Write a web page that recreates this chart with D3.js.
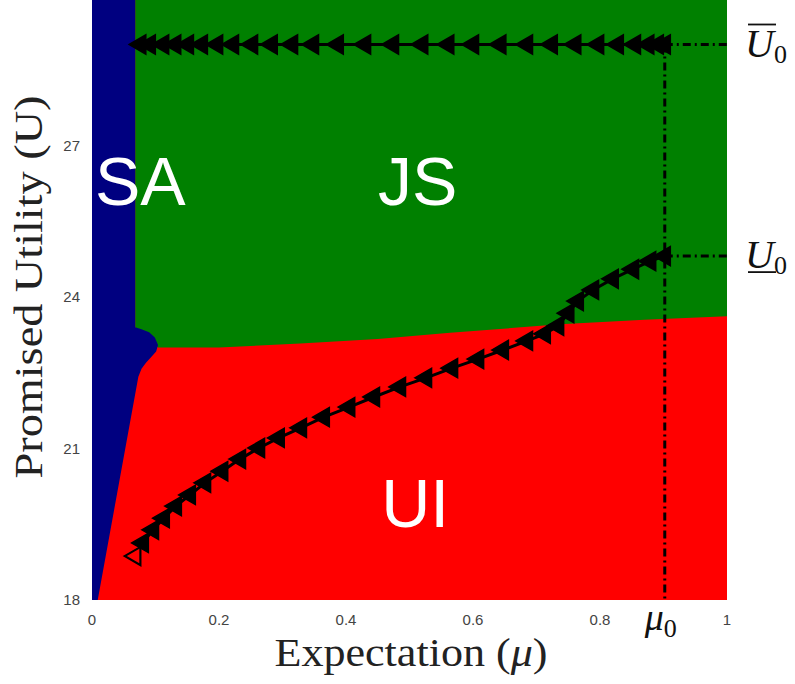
<!DOCTYPE html>
<html>
<head>
<meta charset="utf-8">
<script src="https://cdn.jsdelivr.net/npm/d3@7"></script>
<style>
  body { margin: 0; background: #fff; }
  svg { display: block; }
</style>
</head>
<body>
<div id="chart"></div>
<script>
// ticks
const xTicks = [0, 0.2, 0.4, 0.6, 0.8, 1];
const yTicks = [18, 21, 24, 27];

// reference levels
const mu0 = 0.902;
const uBar0 = 29;
const uUnder0 = 24.81;

// upper trajectory (U stays at uBar0)
const upperMu = [0.076, 0.091, 0.112, 0.131, 0.151, 0.173, 0.197, 0.222, 0.252, 0.283,
  0.315, 0.348, 0.387, 0.43, 0.474, 0.52, 0.561, 0.6, 0.643, 0.685, 0.724, 0.761,
  0.797, 0.828, 0.855, 0.876, 0.891, 0.902];

// lower trajectory
const lowerMu = [0.902, 0.879, 0.852, 0.820, 0.789, 0.765, 0.750, 0.734, 0.713, 0.685,
  0.647, 0.608, 0.567, 0.526, 0.485, 0.444, 0.405, 0.365, 0.329, 0.294, 0.263, 0.233,
  0.205, 0.178, 0.154, 0.132, 0.113, 0.096, 0.080, 0.068];
const lowerU = [24.81, 24.71, 24.55, 24.36, 24.14, 23.92, 23.68, 23.43, 23.27, 23.13,
  22.95, 22.77, 22.59, 22.40, 22.22, 22.02, 21.82, 21.62, 21.41, 21.21, 21.01, 20.79,
  20.55, 20.32, 20.08, 19.86, 19.62, 19.39, 19.13, 18.87];

// region borders
const saEdgeMu = [0.068, 0.068, 0.078, 0.090, 0.099, 0.104, 0.101, 0.094, 0.085, 0.078, 0.073, 0.009];
const saEdgeU = [29.9, 23.40, 23.36, 23.30, 23.20, 23.05, 22.92, 22.82, 22.70, 22.58, 22.42, 18];
const jsEdgeMu = [0.104, 0.2, 0.328, 0.45, 0.564, 0.737, 0.87, 1.0];
const jsEdgeU = [23.0, 23.0, 23.08, 23.17, 23.29, 23.46, 23.55, 23.62];

const W = 795, H = 684;
const x = d3.scaleLinear().domain([0, 1]).range([92, 727]);
const y = d3.scaleLinear().domain([18, 27]).range([600, 145.5]);
const uTop = y.invert(0);

const svg = d3.select('#chart').append('svg')
  .attr('width', W).attr('height', H)
  .style('font-family', 'Liberation Sans, Arial, sans-serif');

const line = d3.line().x(d => x(d[0])).y(d => y(d[1]));

// regions: UI (red) under, JS (green) above border, SA (navy) on left
svg.append('rect')
  .attr('x', x(0)).attr('y', y(uTop))
  .attr('width', x(1) - x(0)).attr('height', y(18) - y(uTop))
  .attr('fill', '#ff0000');

const jsPoly = [[saEdgeMu[0], uTop], [1, uTop]]
  .concat(jsEdgeMu.map((m, i) => [m, jsEdgeU[i]]).reverse())
  .concat([[saEdgeMu[1], saEdgeU[1]]]);
svg.append('path')
  .attr('d', line(jsPoly) + 'Z')
  .attr('fill', '#008000');

const saPoly = [[0, uTop]]
  .concat(saEdgeMu.map((m, i) => [m, saEdgeU[i]]))
  .concat([[0, 18]]);
svg.append('path')
  .attr('d', line(saPoly) + 'Z')
  .attr('fill', '#000080');

// region names
const names = [['SA', 0.076, 25.82], ['JS', 0.513, 25.82], ['UI', 0.509, 19.45]];
svg.selectAll('.region')
  .data(names)
  .enter().append('text')
  .attr('class', 'region')
  .attr('x', d => x(d[1])).attr('y', d => y(d[2]))
  .attr('text-anchor', 'middle')
  .attr('fill', '#fff')
  .style('font-size', '68px')
  .text(d => d[0]);

// dash-dot guides
const dashed = [
  [[mu0, uBar0], [1, uBar0]],
  [[mu0, uUnder0], [1, uUnder0]],
  [[mu0, uBar0], [mu0, 18]]
];
svg.selectAll('.guide')
  .data(dashed)
  .enter().append('path')
  .attr('class', 'guide')
  .attr('d', d => line(d))
  .attr('fill', 'none')
  .attr('stroke', '#000')
  .attr('stroke-width', 3)
  .attr('stroke-dasharray', '8,4,2,4');

// trajectories
const upper = upperMu.map(m => [m, uBar0]);
const lower = lowerMu.map((m, i) => [m, lowerU[i]]);
const tri = d3.symbol().type(d3.symbolTriangle).size(160);

[upper, lower].forEach(pts => {
  svg.append('path')
    .attr('d', line(pts))
    .attr('fill', 'none')
    .attr('stroke', '#000')
    .attr('stroke-width', 3);
  svg.append('g').selectAll('path')
    .data(pts)
    .enter().append('path')
    .attr('d', tri)
    .attr('transform', d => `translate(${x(d[0])},${y(d[1])}) rotate(-90)`)
    .attr('fill', '#000')
    .attr('stroke', '#000')
    .attr('stroke-width', 1.5);
});

// hollow first point of the lower curve
svg.append('path')
  .attr('d', d3.symbol().type(d3.symbolTriangle).size(90))
  .attr('transform', `translate(${x(lowerMu[lowerMu.length - 1])},${y(lowerU[lowerU.length - 1])}) rotate(-90)`)
  .attr('fill', '#ff0000');

// tick labels
svg.selectAll('.xt')
  .data(xTicks)
  .enter().append('text')
  .attr('class', 'xt')
  .attr('x', d => x(d)).attr('y', 625)
  .attr('text-anchor', 'middle')
  .attr('fill', '#444')
  .style('font-size', '15px')
  .text(d => d);

svg.selectAll('.yt')
  .data(yTicks)
  .enter().append('text')
  .attr('class', 'yt')
  .attr('x', 80).attr('y', d => y(d) + 5)
  .attr('text-anchor', 'end')
  .attr('fill', '#444')
  .style('font-size', '15px')
  .text(d => d);

// axis titles
const serif = 'Liberation Serif, Times New Roman, serif';
svg.append('text')
  .attr('x', 411).attr('y', 666)
  .attr('text-anchor', 'middle')
  .attr('fill', '#222')
  .style('font-family', serif).style('font-size', '41px')
  .attr('textLength', 273).attr('lengthAdjust', 'spacingAndGlyphs')
  .html('Expectation (<tspan font-style="italic">μ</tspan>)');

svg.append('text')
  .attr('transform', 'translate(42,287) rotate(-90)')
  .attr('text-anchor', 'middle')
  .attr('fill', '#222')
  .style('font-family', serif).style('font-size', '41px')
  .attr('textLength', 383).attr('lengthAdjust', 'spacingAndGlyphs')
  .text('Promised Utility (U)');

// mu0 label
const mu0Label = svg.append('text')
  .attr('x', x(mu0) - 4).attr('y', 630)
  .attr('text-anchor', 'middle')
  .attr('fill', '#111')
  .style('font-family', serif).style('font-size', '38px');
mu0Label.append('tspan').attr('font-style', 'italic').text('μ');
mu0Label.append('tspan').attr('dy', 7).style('font-size', '26px').text('0');

// U0 labels
[[uBar0, 'over'], [uUnder0, 'under']].forEach(([u, mark]) => {
  const base = y(u) + 12;
  const t = svg.append('text')
    .attr('x', 745).attr('y', base)
    .attr('fill', '#111')
    .style('font-family', serif).style('font-size', '40px');
  t.append('tspan').attr('font-style', 'italic').text('U');
  t.append('tspan').attr('dy', 6).style('font-size', '26px').text('0');
  svg.append('line')
    .attr('x1', 748).attr('x2', 776)
    .attr('y1', mark === 'over' ? base - 32 : base + 4)
    .attr('y2', mark === 'over' ? base - 32 : base + 4)
    .attr('stroke', '#111').attr('stroke-width', 1.8);
});
</script>
</body>
</html>
